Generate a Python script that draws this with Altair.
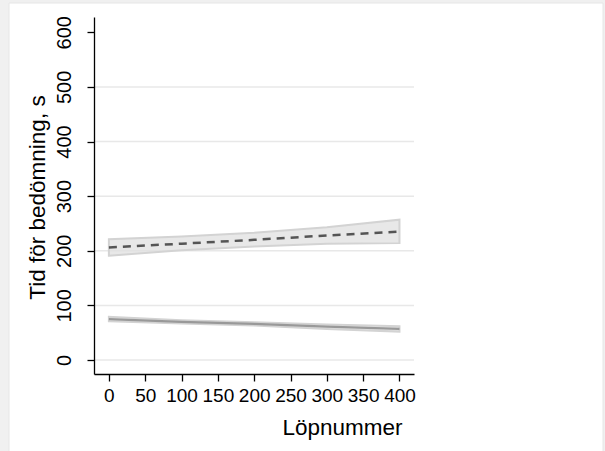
import altair as alt
import pandas as pd

# Data
x_points = [0, 100, 200, 300, 400]
dash_fit = [206, 213, 220, 228, 235]
dash_lo = [191, 201, 208, 213, 214]
dash_hi = [221, 226, 233, 243, 257]
solid_fit = [75, 70, 66, 61, 57]
solid_lo = [71, 67, 63, 57, 52]
solid_hi = [79, 73, 69, 65, 62]
grid_values = [0, 100, 200, 300, 400, 500]
x_ticks = [0, 50, 100, 150, 200, 250, 300, 350, 400]
y_ticks = [0, 100, 200, 300, 400, 500, 600]

df_dash = pd.DataFrame({"x": x_points, "fit": dash_fit, "lo": dash_lo, "hi": dash_hi})
df_solid = pd.DataFrame({"x": x_points, "fit": solid_fit, "lo": solid_lo, "hi": solid_hi})
df_grid = pd.DataFrame({"g": grid_values})

FONT = "Liberation Sans"
xscale = alt.Scale(domain=[-20.5, 420], nice=False, zero=False)
yscale = alt.Scale(domain=[-25.6, 628], nice=False, zero=False)

xaxis = alt.Axis(
    values=x_ticks, title="Löpnummer", grid=False, tickSize=7, labelPadding=5,
    labelFontSize=19, labelOverlap=False, titleFontSize=22.5, titleFontWeight="normal",
    titleX=248, titleY=42, titleAlign="center", titleBaseline="top", zindex=5,
)
yaxis = alt.Axis(
    values=y_ticks, title="Tid för bedömning, s", grid=False, tickSize=7,
    labelAngle=-90, labelAlign="center", labelBaseline="bottom", labelPadding=13,
    labelFontSize=20, labelOverlap=False, titleFontSize=22.5, titleFontWeight="normal",
    titleAngle=-90, titleX=-45, titleY=180, titleAlign="center", titleBaseline="bottom", zindex=5,
)

frame = alt.Chart(alt.Data(values=[{}])).mark_rect(color="white", stroke="#e6e6e6", strokeWidth=1).encode(
    x=alt.value(-85), x2=alt.value(509), y=alt.value(-14), y2=alt.value(440)
)

grid = alt.Chart(df_grid).mark_rule(color="#e8e8e8", strokeWidth=1.5).encode(
    y=alt.Y("g:Q", scale=yscale, axis=yaxis),
    x=alt.value(0), x2=alt.value(320),
)

band_d = alt.Chart(df_dash).mark_area(fill="#e0e0e0", fillOpacity=0.75, stroke="#d3d3d3", strokeWidth=2).encode(
    x=alt.X("x:Q", scale=xscale, axis=xaxis), y=alt.Y("lo:Q", scale=yscale, axis=yaxis), y2="hi:Q"
)
band_s = alt.Chart(df_solid).mark_area(fill="#e0e0e0", fillOpacity=0.75, stroke="#d3d3d3", strokeWidth=2).encode(
    x=alt.X("x:Q", scale=xscale, axis=xaxis), y=alt.Y("lo:Q", scale=yscale, axis=yaxis), y2="hi:Q"
)
line_d = alt.Chart(df_dash).mark_line(color="#555555", strokeWidth=2.5, strokeDash=[8, 6]).encode(
    x=alt.X("x:Q", scale=xscale, axis=xaxis), y=alt.Y("fit:Q", scale=yscale, axis=yaxis)
)
line_s = alt.Chart(df_solid).mark_line(color="#999999", strokeWidth=2.2).encode(
    x=alt.X("x:Q", scale=xscale, axis=xaxis), y=alt.Y("fit:Q", scale=yscale, axis=yaxis)
)

chart = alt.layer(frame, grid, band_d, band_s, line_d, line_s).properties(
    width=320, height=357,
    autosize=alt.AutoSizeParams(type="none"),
    padding={"left": 94, "top": 17, "right": 191, "bottom": 77},
    background="#f0f0f0",
).configure_view(stroke=None).configure_axis(
    domainColor="black", domainWidth=1.3, tickColor="black", tickWidth=1.3,
    labelFont=FONT, titleFont=FONT, labelColor="black", titleColor="black",
)

chart.save("out.html", embed_options={"renderer": "svg", "actions": False})
